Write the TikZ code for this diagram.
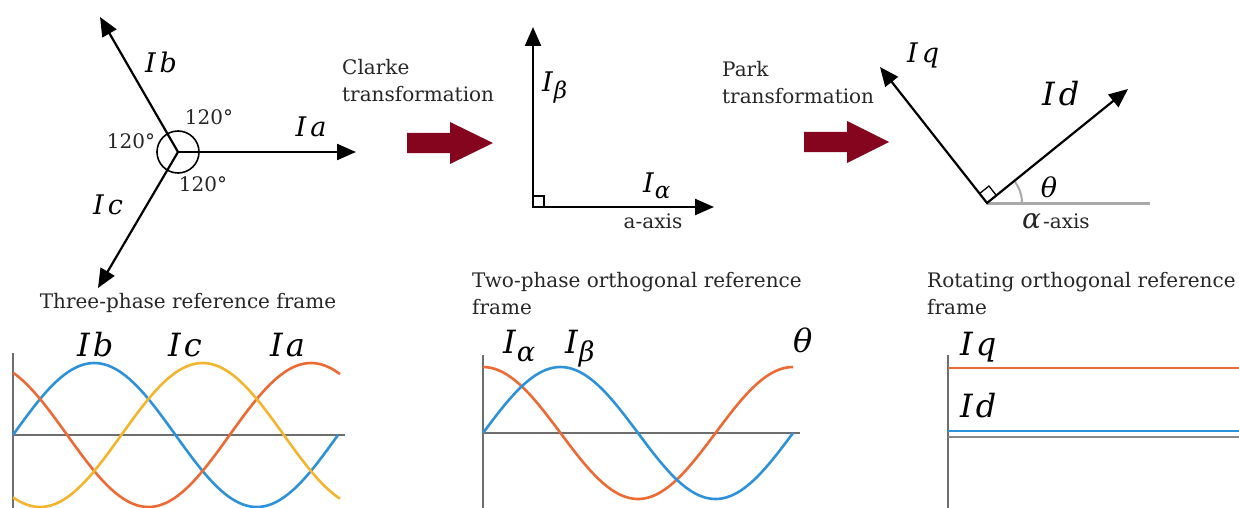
\RequirePackage{fix-cm}
\documentclass[tikz,border=0pt]{standalone}
\usepackage{fontspec}
\setmainfont{DejaVu Serif}
\usepackage{xcolor}
\usetikzlibrary{arrows.meta,positioning,calc}

\definecolor{blockred}{HTML}{85051F}
\definecolor{waveblue}{HTML}{2E92DA}
\definecolor{waveorange}{HTML}{EE6A35}
\definecolor{waveyellow}{HTML}{F4B52E}
\definecolor{axisgray}{HTML}{6E6E6E}
\definecolor{lightaxis}{HTML}{A9A9A9}

% subscript of a current label
\newcommand{\lblsub}[1]{\raisebox{-0.25em}{\fontsize{0.85\dimexpr\fontdimen6\font\relax}{10}\selectfont #1}}

\tikzset{
  vec/.style={line width=2.2pt,-{Triangle[length=19pt,width=16pt]}},
  vecpair/.style={line width=2.2pt,line join=miter,{Triangle[length=19pt,width=16pt]}-{Triangle[length=19pt,width=16pt]}},
  lbl/.style={inner sep=0pt,font=\fontsize{27}{30}\selectfont\itshape},
  biglbl/.style={inner sep=0pt,font=\fontsize{32}{36}\selectfont\itshape},
  txt/.style={inner sep=0pt,font=\fontsize{20}{27}\selectfont,align=left,text=black!85},
  ax/.style={axisgray,line width=2pt},
  wave/.style={line width=2.6pt},
}

\begin{document}
\begin{tikzpicture}[x=1pt,y=-1pt]
    \useasboundingbox (0,0) rectangle (1239,508);

    % Three-phase vectors
    \coordinate (O1) at (178,152);
    \coordinate (IaE) at (356,152);
    \coordinate (IbE) at (100,17);
    \coordinate (IcE) at (98,288);
    \draw[vec] (O1) -- (IaE);
    \draw[vec] (O1) -- (IbE);
    \draw[vec] (O1) -- (IcE);
    \draw[line width=1.6pt] (O1) circle[radius=21];
    \node[lbl] (Ia) at (311,127) {I\kern4pt a};
    \node[lbl] (Ib) at (161,62) {I\kern4pt b};
    \node[lbl] (Ic) at (108,205) {I\kern4pt c};
    \node[txt] (ang1) at (209,117) {120°};
    \node[txt] (ang2) at (131,141) {120°};
    \node[txt] (ang3) at (203,184) {120°};

    % Transformation arrows
    \node[txt,anchor=north west] (clarke) at (342,59) {Clarke\\transformation};
    \node[txt,anchor=north west] (park) at (722,61) {Park\\transformation};
    \fill[blockred,shift={(407,143)}] (0,-10) -- (43,-10) -- (43,-21) -- (86,0) -- (43,21) -- (43,10) -- (0,10) -- cycle;
    \fill[blockred,shift={(804,142)}] (0,-10) -- (43,-10) -- (43,-21) -- (85,0) -- (43,21) -- (43,10) -- (0,10) -- cycle;

    % Two-phase axes
    \coordinate (O2) at (533,207);
    \coordinate (IbetaE) at (533,27);
    \coordinate (IalphaE) at (714,207);
    \draw[vecpair] (IbetaE) -- (O2) -- (IalphaE);
    \draw[line width=1.3pt] (O2) rectangle ++(11,-11);
    \node[lbl,anchor=base west] (Ibeta) at (542,92) {I\kern1pt\lblsub{β}};
    \node[lbl,anchor=base west] (Ialpha) at (643,192) {I\kern1pt\lblsub{α}};
    \node[txt,anchor=base] (aaxis) at (653,228) {a-axis};

    % Rotating axes
    \coordinate (V) at (987,203);
    \coordinate (IqE) at (880,67);
    \coordinate (IdE) at (1128,89);
    \coordinate (alphaE) at (1150,203);
    \draw[lightaxis,line width=3pt] (V) -- (alphaE);
    \draw[lightaxis,line width=2pt] ($(V)+(35,0)$) arc[start angle=0,end angle=-39,radius=35];
    \draw[vecpair] (IqE) -- (V) -- (IdE);
    \coordinate (s1) at ($(V)!12pt!(IdE)$);
    \coordinate (s2) at ($(V)!12pt!(IqE)$);
    \draw[line width=1.3pt] (s1) -- ($(s1)+(s2)-(V)$) -- (s2);
    \node[lbl,anchor=base west] (Iq) at (907,63) {I\kern4pt q};
    \node[biglbl,anchor=base west] (Id) at (1042,106) {I\kern4pt d};
    \node[lbl] (theta) at (1049,187) {θ};
    \node[txt,anchor=base west] (alphaaxis) at (1022,228) {{\fontsize{28}{30}\selectfont\itshape α}\kern2pt-axis};

    % Frame captions
    \node[txt,anchor=base] (cap1) at (188,308) {Three-phase reference frame};
    \node[txt,anchor=north west] (cap2) at (472,272) {Two-phase orthogonal reference\\frame};
    \node[txt,anchor=north west] (cap3) at (927,272) {Rotating orthogonal reference\\frame};

    % Three-phase waves
    \coordinate (p1a) at (13,353);
    \coordinate (p1b) at (13,508);
    \coordinate (p1c) at (13,435);
    \coordinate (p1d) at (345,435);
    \draw[ax] (p1a) -- (p1b);
    \draw[ax] (p1c) -- (p1d);
    \draw[wave,waveblue] plot[domain=13:338,samples=90] (\x,{435-72*sin((\x-13)/325*360)});
    \draw[wave,waveorange] plot[domain=13:340,samples=90] (\x,{435-72*sin((\x-13)/325*360+120)});
    \draw[wave,waveyellow] plot[domain=13:340,samples=90] (\x,{435-72*sin((\x-13)/325*360+240)});
    \node[biglbl,anchor=base west] (pIb) at (77,356) {I\kern3pt b};
    \node[biglbl,anchor=base west] (pIc) at (168,356) {I\kern3pt c};
    \node[biglbl,anchor=base west] (pIa) at (270,356) {I\kern3pt a};

    % Two-phase waves
    \coordinate (p2a) at (483,355);
    \coordinate (p2b) at (483,508);
    \coordinate (p2c) at (483,433);
    \coordinate (p2d) at (800,433);
    \draw[ax] (p2a) -- (p2b);
    \draw[ax] (p2c) -- (p2d);
    \draw[wave,waveorange] plot[domain=483:793,samples=90] (\x,{433-66*cos((\x-483)/310*360)});
    \draw[wave,waveblue] plot[domain=483:793,samples=90] (\x,{433-66*sin((\x-483)/310*360)});
    \node[biglbl,anchor=base west] (pIalpha) at (503,353) {I\kern1pt\lblsub{α}};
    \node[biglbl,anchor=base west] (pIbeta) at (565,353) {I\kern1pt\lblsub{β}};
    \node[biglbl,anchor=base west] (ptheta) at (793,352) {θ};

    % Rotating frame lines
    \coordinate (p3a) at (948,355);
    \coordinate (p3b) at (948,508);
    \coordinate (p3c) at (948,437);
    \coordinate (p3d) at (1239,437);
    \coordinate (q1) at (948,368);
    \coordinate (q2) at (1239,368);
    \coordinate (d1) at (948,431);
    \coordinate (d2) at (1239,431);
    \draw[ax] (p3a) -- (p3b);
    \draw[ax,lightaxis!80!black] (p3c) -- (p3d);
    \draw[wave,waveorange] (q1) -- (q2);
    \draw[wave,waveblue] (d1) -- (d2);
    \node[biglbl,anchor=base west] (pIq) at (960,355) {I\kern3pt q};
    \node[biglbl,anchor=base west] (pId) at (960,417) {I\kern3pt d};
\end{tikzpicture}
\end{document}
